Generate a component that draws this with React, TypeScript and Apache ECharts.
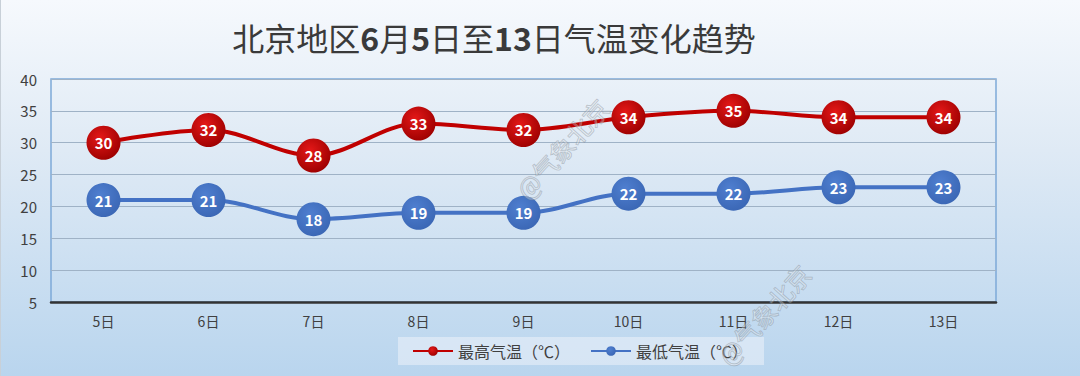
import React, { useEffect, useRef } from "react";
import * as echarts from "echarts";

const categories = ["5日", "6日", "7日", "8日", "9日", "10日", "11日", "12日", "13日"];
const highTemps = [30, 32, 28, 33, 32, 34, 35, 34, 34];
const lowTemps = [21, 21, 18, 19, 19, 22, 22, 23, 23];
const highName = "最高气温（℃）";
const lowName = "最低气温（℃）";

export default function App() {
  const ref = useRef<HTMLDivElement>(null);
  useEffect(() => {
    document.body.style.margin = "0";
    const chart = echarts.init(ref.current!, null, { renderer: "svg" });
    const font = "'Noto Sans CJK SC', 'Noto Sans', sans-serif";
    const redDot = new echarts.graphic.RadialGradient(0.4, 0.35, 0.7, [
      { offset: 0, color: "#e41818" },
      { offset: 1, color: "#9c0000" },
    ]);
    const blueDot = new echarts.graphic.RadialGradient(0.4, 0.35, 0.7, [
      { offset: 0, color: "#4f7fd0" },
      { offset: 1, color: "#3a66b4" },
    ]);
    const wm = (x: number, y: number) => ({
      type: "text",
      x,
      y,
      rotation: (48 * Math.PI) / 180,
      style: {
        text: "@气象北京",
        font: `25px ${font}`,
        fill: "rgba(255,255,255,0.25)",
        stroke: "rgba(120,130,140,0.45)",
        lineWidth: 1,
      },
      z: 100,
    });
    chart.setOption({
      animation: false,
      backgroundColor: "transparent",
      title: {
        text: "北京地区{b|6}月{b|5}日至{b|13}日气温变化趋势",
        left: 488,
        textAlign: "center",
        top: 16,
        textStyle: {
          fontFamily: font,
          fontSize: 32,
          fontWeight: "normal",
          color: "#3a3a3a",
          rich: {
            b: { fontFamily: font, fontSize: 32, fontWeight: "bold", color: "#3a3a3a" },
          },
        },
      },
      grid: { left: 50, right: 84, top: 79, bottom: 74, show: true, borderColor: "#7ea9d8", borderWidth: 1.5, backgroundColor: "transparent" },
      legend: {
        bottom: 11,
        left: 397,
        itemGap: 20,
        itemWidth: 40,
        itemHeight: 12,
        backgroundColor: "rgba(236,242,249,0.55)",
        padding: [6, 16, 6, 14],
        textStyle: { fontFamily: font, fontSize: 16, color: "#404040" },
        data: [highName, lowName],
      },
      xAxis: {
        type: "category",
        data: categories,
        boundaryGap: true,
        axisLine: { lineStyle: { color: "#333", width: 2.5 } },
        axisTick: { show: false },
        axisLabel: { fontFamily: font, fontSize: 14, color: "#404040", margin: 12 },
      },
      yAxis: {
        type: "value",
        min: 5,
        max: 40,
        interval: 5,
        axisLine: { show: false },
        axisTick: { show: false },
        splitLine: { lineStyle: { color: "#9fb2c6", width: 1 } },
        axisLabel: { fontFamily: font, fontSize: 15, color: "#404040", margin: 14 },
      },
      series: [
        {
          name: highName,
          type: "line",
          data: highTemps,
          smooth: 0.35,
          symbol: "circle",
          symbolSize: 34,
          lineStyle: { color: "#c00000", width: 4 },
          itemStyle: { color: redDot },
          label: {
            show: true,
            position: "inside",
            color: "#fff",
            fontFamily: font,
            fontSize: 15,
            fontWeight: "bold",
          },
          z: 3,
        },
        {
          name: lowName,
          type: "line",
          data: lowTemps,
          smooth: 0.35,
          symbol: "circle",
          symbolSize: 34,
          lineStyle: { color: "#4472c4", width: 4 },
          itemStyle: { color: blueDot },
          label: {
            show: true,
            position: "inside",
            color: "#fff",
            fontFamily: font,
            fontSize: 15,
            fontWeight: "bold",
          },
          z: 3,
        },
      ],
      graphic: [wm(510, 186), wm(712, 352)],
    });
    return () => chart.dispose();
  }, []);
  return (
    <div
      ref={ref}
      style={{
        width: 1080,
        height: 376,
        background: "linear-gradient(180deg, #f6f9fd 0%, #dfeaf5 40%, #b9d5ee 100%)",
        borderLeft: "1px solid #c8d0d8",
        boxSizing: "border-box",
      }}
    />
  );
}
